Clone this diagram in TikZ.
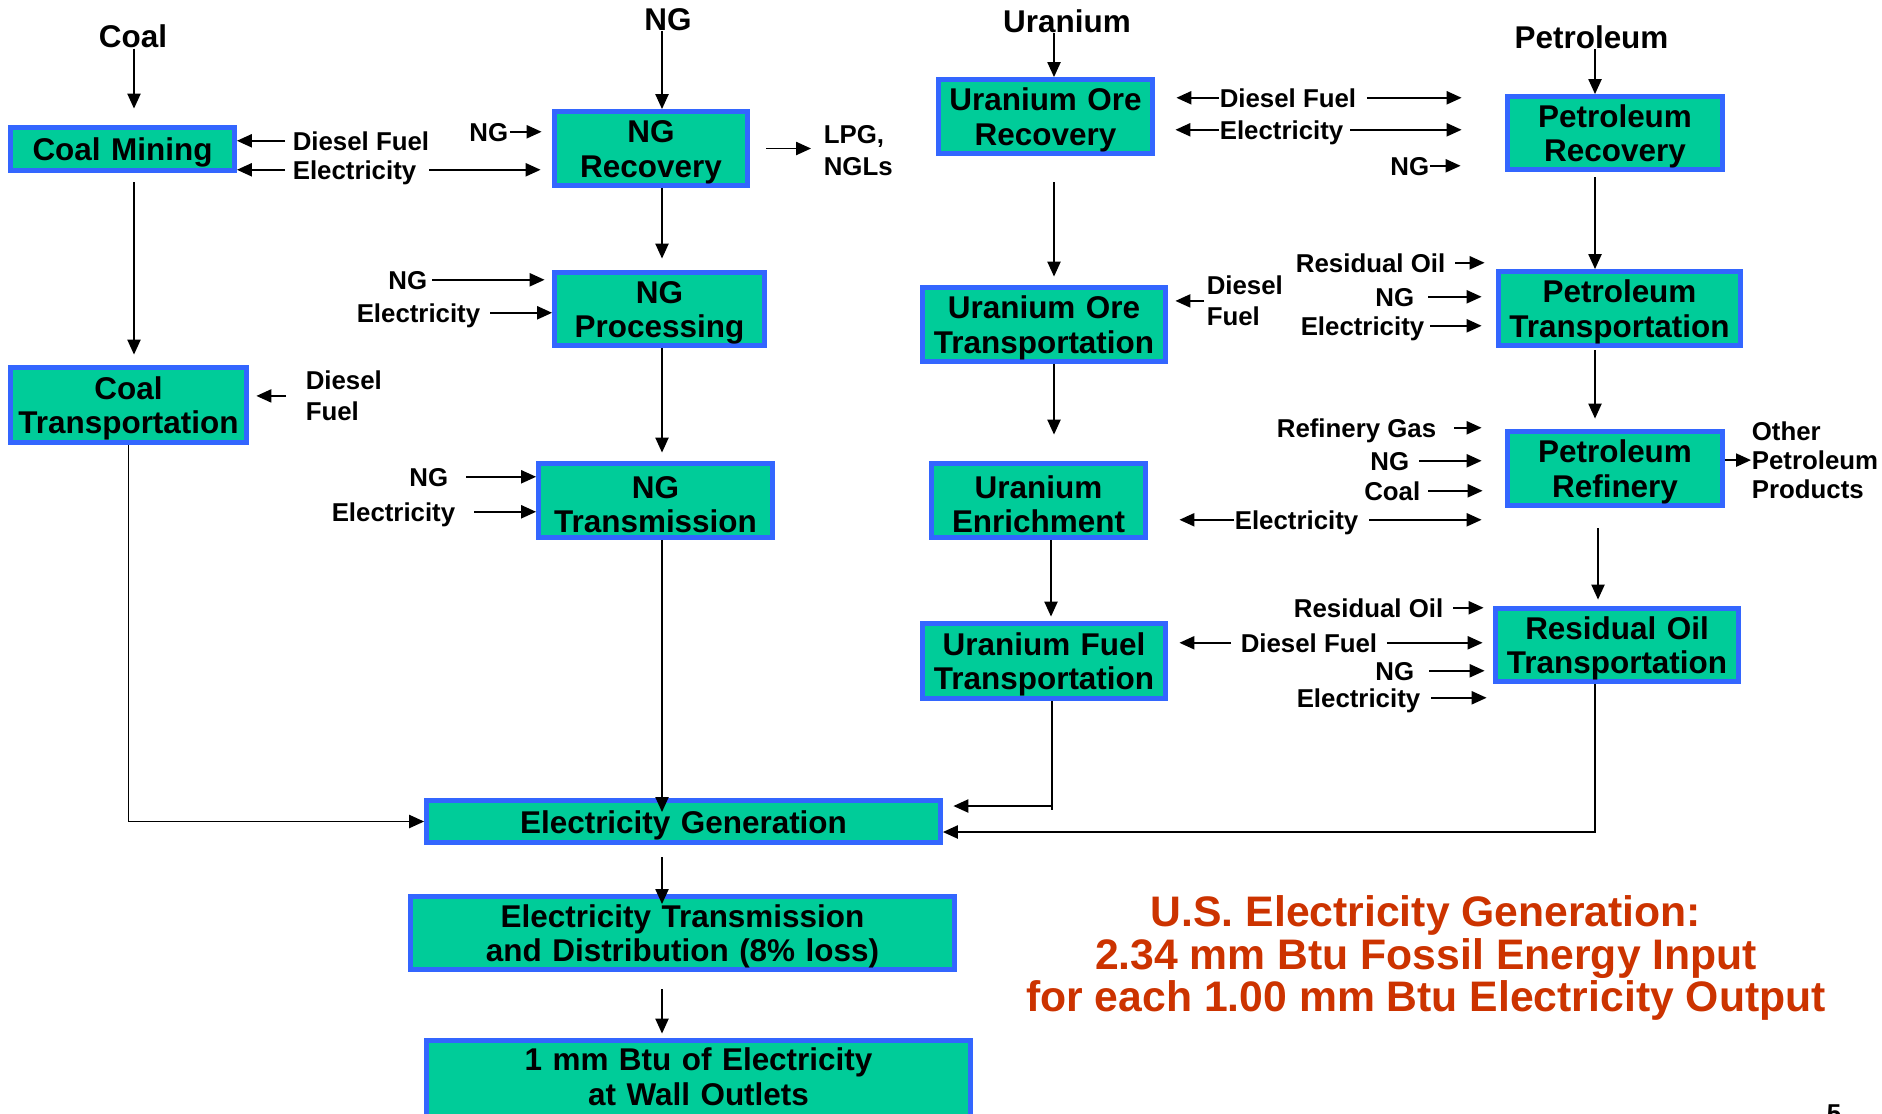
\documentclass[tikz,border=0pt]{standalone}
\usepackage{fontspec}
\setmainfont{Liberation Sans}
\usetikzlibrary{arrows.meta}

\definecolor{boxgreen}{RGB}{0,204,153}
\definecolor{boxblue}{RGB}{51,102,255}
\definecolor{titlered}{RGB}{204,51,0}

\begin{document}
\begin{tikzpicture}[x=0.02cm, y=-0.02cm, line width=0.9pt, font=\bfseries, >={Triangle[length=8.5pt,width=7.5pt]}]

	% Stili: riquadri di processo, sorgenti in alto, ingressi laterali
	\tikzset{
		process/.style={
			draw=boxblue, fill=boxgreen, line width=2.8pt,
			inner sep=0pt, align=center, text width=#1,
			font=\fontsize{17.9}{19.6}\selectfont\bfseries,
			execute at begin node={\rule{0pt}{17pt}}
		},
		source/.style={
			inner sep=0pt, anchor=base,
			font=\fontsize{17.9}{19.6}\selectfont\bfseries
		},
		inlabel/.style={
			inner sep=0pt, text height=10.5pt, text depth=0pt,
			font=\fontsize{14.7}{17.8}\selectfont\bfseries
		},
		inblock/.style={
			inner sep=0pt, align=left, anchor=north west,
			font=\fontsize{14.7}{17.8}\selectfont\bfseries
		}
	}

	\useasboundingbox[fill=white] (0,0) rectangle (1882,1113);

	% Colonne verticali delle frecce
	\coordinate (coalcol) at (134,0);
	\coordinate (ngcol)   at (662,0);
	\coordinate (ucol)    at (1054,0);
	\coordinate (ucol2)   at (1051,0);
	\coordinate (pcol)    at (1595,0);
	\coordinate (pcol2)   at (1598,0);
	\coordinate (ujoin)   at (1052,806);
	\coordinate (pjoin)   at (1595,832);

	% Riquadri di processo
	\node[process=4.48cm, minimum height=0.86cm] (coalmine)  at (122.5,149)  {Coal Mining};
	\node[process=4.72cm, minimum height=1.50cm] (coaltrans) at (128.5,405)  {Coal\\Transportation};
	\node[process=3.86cm, minimum height=1.48cm] (ngrec)     at (651,148.5)  {NG\\Recovery};
	\node[process=4.20cm, minimum height=1.46cm] (ngproc)    at (659.5,309)  {NG\\Processing};
	\node[process=4.68cm, minimum height=1.48cm] (ngtrans)   at (655.5,500.5) {NG\\Transmission};
	\node[process=4.28cm, minimum height=1.48cm] (urrec)     at (1045.5,116.5) {Uranium Ore\\Recovery};
	\node[process=4.86cm, minimum height=1.48cm] (urtrans)   at (1044,324.5) {Uranium Ore\\Transportation};
	\node[process=4.28cm, minimum height=1.48cm] (urenr)     at (1038.5,500.5) {Uranium\\Enrichment};
	\node[process=4.86cm, minimum height=1.50cm] (urfuel)    at (1044,661)   {Uranium Fuel\\Transportation};
	\node[process=4.30cm, minimum height=1.46cm] (petrec)    at (1615,133)   {Petroleum\\Recovery};
	\node[process=4.84cm, minimum height=1.48cm] (pettrans)  at (1619.5,308.5) {Petroleum\\Transportation};
	\node[process=4.30cm, minimum height=1.48cm] (petref)    at (1615,468.5) {Petroleum\\Refinery};
	\node[process=4.86cm, minimum height=1.46cm] (resoil)    at (1617,645)   {Residual Oil\\Transportation};
	\node[process=10.28cm, minimum height=0.84cm] (elgen)    at (683.5,821.5) {Electricity Generation};
	\node[process=10.88cm, minimum height=1.46cm] (eltd)     at (682.5,933)  {Electricity Transmission\\and Distribution (8\% loss)};
	\node[process=10.88cm, minimum height=1.54cm, execute at begin node={},
		execute at end node={\rule[-7pt]{0pt}{7pt}}] (wall) at (698.5,1079) {1 mm Btu of Electricity\\at Wall Outlets};

	% Sorgenti primarie
	\node[source] (coalsrc) at (133,47.5)  {Coal};
	\node[source] (ngsrc)   at (668,30)    {NG};
	\node[source] (ursrc)   at (1067,32)   {Uranium};
	\node[source] (petsrc)  at (1591.5,48) {Petroleum};

	% Filiera del carbone
	\draw[->, shorten >=0.33cm] (coalsrc.south -| coalcol) -- (coalcol |- coalmine.north);
	\draw[->, shorten <=0.19cm, shorten >=0.21cm] (coalmine.south -| coalcol) -- (coalcol |- coaltrans.north);
	\draw[->] (coaltrans.south) |- (elgen.west);

	\node[inlabel, anchor=base west] (cmdiesel) at (292,150) {Diesel Fuel};
	\node[inlabel, anchor=base west] (cmelec)   at (292,179) {Electricity};
	\draw[->, shorten <=0.14cm] (cmdiesel.west) -- (cmdiesel.west -| coalmine.east);
	\draw[->, shorten <=0.14cm] (cmelec.west) -- (cmelec.west -| coalmine.east);
	\draw[->, shorten <=0.24cm, shorten >=0.23cm] (cmelec.east) -- (cmelec.east -| ngrec.west);

	\node[inblock] (ctdiesel) at (305,370) {Diesel\\Fuel};
	\draw[->, shorten <=0.38cm, shorten >=0.15cm] (ctdiesel.west) -- (ctdiesel.west -| coaltrans.east);

	% Filiera del gas naturale
	\draw[->] (ngsrc.south -| ngcol) -- (ngcol |- ngrec.north);
	\draw[->, shorten >=0.23cm] (ngrec.south -| ngcol) -- (ngcol |- ngproc.north);
	\draw[->, shorten >=0.17cm] (ngproc.south -| ngcol) -- (ngcol |- ngtrans.north);
	\draw[->, shorten >=0.19cm] (ngtrans.south -| ngcol) -- (ngcol |- elgen.center);

	\node[inlabel, anchor=base east] (ngrin) at (509,141) {NG};
	\draw[->, shorten <=0.02cm, shorten >=0.21cm] (ngrin.east) -- (ngrin.east -| ngrec.west);
	\node[inblock] (lpg) at (823,125) {LPG,\\NGLs};
	\draw[->, shorten <=0.33cm, shorten >=0.24cm] (ngrec.east) -- (ngrec.east -| lpg.west);

	\node[inlabel, anchor=base east] (npng) at (428,289) {NG};
	\node[inlabel, anchor=base east] (npel) at (481,322) {Electricity};
	\draw[->, shorten <=0.08cm, shorten >=0.15cm] (npng.east) -- (npng.east -| ngproc.west);
	\draw[->, shorten <=0.18cm] (npel.east) -- (npel.east -| ngproc.west);

	\node[inlabel, anchor=base east] (ntng) at (449,486) {NG};
	\node[inlabel, anchor=base east] (ntel) at (456,521) {Electricity};
	\draw[->, shorten <=0.34cm] (ntng.east) -- (ntng.east -| ngtrans.west);
	\draw[->, shorten <=0.36cm] (ntel.east) -- (ntel.east -| ngtrans.west);

	% Filiera dell'uranio
	\draw[->] (ursrc.south -| ucol) -- (ucol |- urrec.north);
	\draw[->, shorten <=0.53cm, shorten >=0.17cm] (urrec.south -| ucol) -- (ucol |- urtrans.north);
	\draw[->, shorten >=0.53cm] (urtrans.south -| ucol) -- (ucol |- urenr.north);
	\draw[->, shorten >=0.09cm] (urenr.south -| ucol2) -- (ucol2 |- urfuel.north);
	\draw (urfuel.south -| ujoin) -- ([yshift=-0.08cm]ujoin);
	\draw[->, shorten >=0.21cm] (ujoin) -- (ujoin -| elgen.east);

	\node[inlabel, anchor=base west] (urdiesel) at (1219,107) {Diesel Fuel};
	\node[inlabel, anchor=base west] (urelec)   at (1219,139) {Electricity};
	\node[inlabel, anchor=base east] (prngin)   at (1430,175) {NG};
	\draw[->, shorten >=0.43cm] (urdiesel.west) -- (urdiesel.west -| urrec.east);
	\draw[->, shorten >=0.41cm] (urelec.west) -- (urelec.west -| urrec.east);
	\draw[->, shorten <=0.20cm, shorten >=0.87cm] (urdiesel.east) -- (urdiesel.east -| petrec.west);
	\draw[->, shorten <=0.12cm, shorten >=0.87cm] (urelec.east) -- (urelec.east -| petrec.west);
	\draw[->, shorten >=0.89cm] (prngin.east) -- (prngin.east -| petrec.west);

	\node[inblock] (utdiesel) at (1206,275) {Diesel\\Fuel};
	\draw[->, shorten <=0.04cm, shorten >=0.15cm] (utdiesel.west) -- (utdiesel.west -| urtrans.east);

	% Filiera del petrolio
	\draw[->] (petsrc.south -| pcol) -- (pcol |- petrec.north);
	\draw[->, shorten <=0.11cm] (petrec.south -| pcol) -- (pcol |- pettrans.north);
	\draw[->, shorten <=0.05cm, shorten >=0.21cm] (pettrans.south -| pcol) -- (pcol |- petref.north);
	\draw[->, shorten <=0.41cm, shorten >=0.13cm] (petref.south -| pcol2) -- (pcol2 |- resoil.north);
	\draw[->] (resoil.south -| pjoin) -- (pjoin) -- (pjoin -| elgen.east);

	\node[inlabel, anchor=base east] (ptres) at (1446,272) {Residual Oil};
	\node[inlabel, anchor=base east] (ptng)  at (1415,306) {NG};
	\node[inlabel, anchor=base east] (ptel)  at (1425,335) {Electricity};
	\draw[->, shorten <=0.18cm, shorten >=0.23cm] (ptres.east) -- (ptres.east -| pettrans.west);
	\draw[->, shorten <=0.26cm, shorten >=0.29cm] (ptng.east) -- (ptng.east -| pettrans.west);
	\draw[->, shorten <=0.10cm, shorten >=0.29cm] (ptel.east) -- (ptel.east -| pettrans.west);

	\node[inlabel, anchor=base east] (prgas)  at (1437,437) {Refinery Gas};
	\node[inlabel, anchor=base east] (prng)   at (1410,470) {NG};
	\node[inlabel, anchor=base east] (prcoal) at (1421,500) {Coal};
	\node[inlabel, anchor=base west] (prel)   at (1234,529) {Electricity};
	\draw[->, shorten <=0.34cm, shorten >=0.47cm] (prgas.east) -- (prgas.east -| petref.west);
	\draw[->, shorten <=0.18cm, shorten >=0.47cm] (prng.east) -- (prng.east -| petref.west);
	\draw[->, shorten <=0.14cm, shorten >=0.45cm] (prcoal.east) -- (prcoal.east -| petref.west);
	\draw[->, shorten >=0.63cm] (prel.west) -- (prel.west -| urenr.east);
	\draw[->, shorten <=0.20cm, shorten >=0.47cm] (prel.east) -- (prel.east -| petref.west);

	\node[inblock, font=\fontsize{14.7}{16.4}\selectfont\bfseries] (prother) at (1751,421) {Other\\Petroleum\\Products};
	\draw[->] (petref.east |- prother.west) -- (prother.west);

	\node[inlabel, anchor=base east] (roresid)  at (1444,617) {Residual Oil};
	\node[inlabel, anchor=base west] (rodiesel) at (1240,652) {Diesel Fuel};
	\node[inlabel, anchor=base east] (rong)     at (1415,680) {NG};
	\node[inlabel, anchor=base east] (roel)     at (1421,707) {Electricity};
	\draw[->, shorten <=0.18cm, shorten >=0.19cm] (roresid.east) -- (roresid.east -| resoil.west);
	\draw[->, shorten <=0.18cm, shorten >=0.23cm] (rodiesel.west) -- (rodiesel.west -| urfuel.east);
	\draw[->, shorten <=0.18cm, shorten >=0.21cm] (rodiesel.east) -- (rodiesel.east -| resoil.west);
	\draw[->, shorten <=0.28cm, shorten >=0.17cm] (rong.east) -- (rong.east -| resoil.west);
	\draw[->, shorten <=0.20cm, shorten >=0.13cm] (roel.east) -- (roel.east -| resoil.west);

	% Generazione, trasmissione e consumo finale
	\draw[->, shorten <=0.25cm, shorten >=0.58cm] (elgen.south -| ngcol) -- (ngcol |- eltd.center);
	\draw[->, shorten <=0.35cm, shorten >=0.09cm] (eltd.south -| ngcol) -- (ngcol |- wall.north);

	% Riepilogo
	\node[align=center, text=titlered, font=\fontsize{24.3}{24.2}\selectfont\bfseries] (summary) at (1426,958)
		{U.S. Electricity Generation:\\2.34 mm Btu Fossil Energy Input\\for each 1.00 mm Btu Electricity Output};

	\node[inlabel, anchor=base] (pagenum) at (1834,1122) {5};

\end{tikzpicture}
\end{document}
